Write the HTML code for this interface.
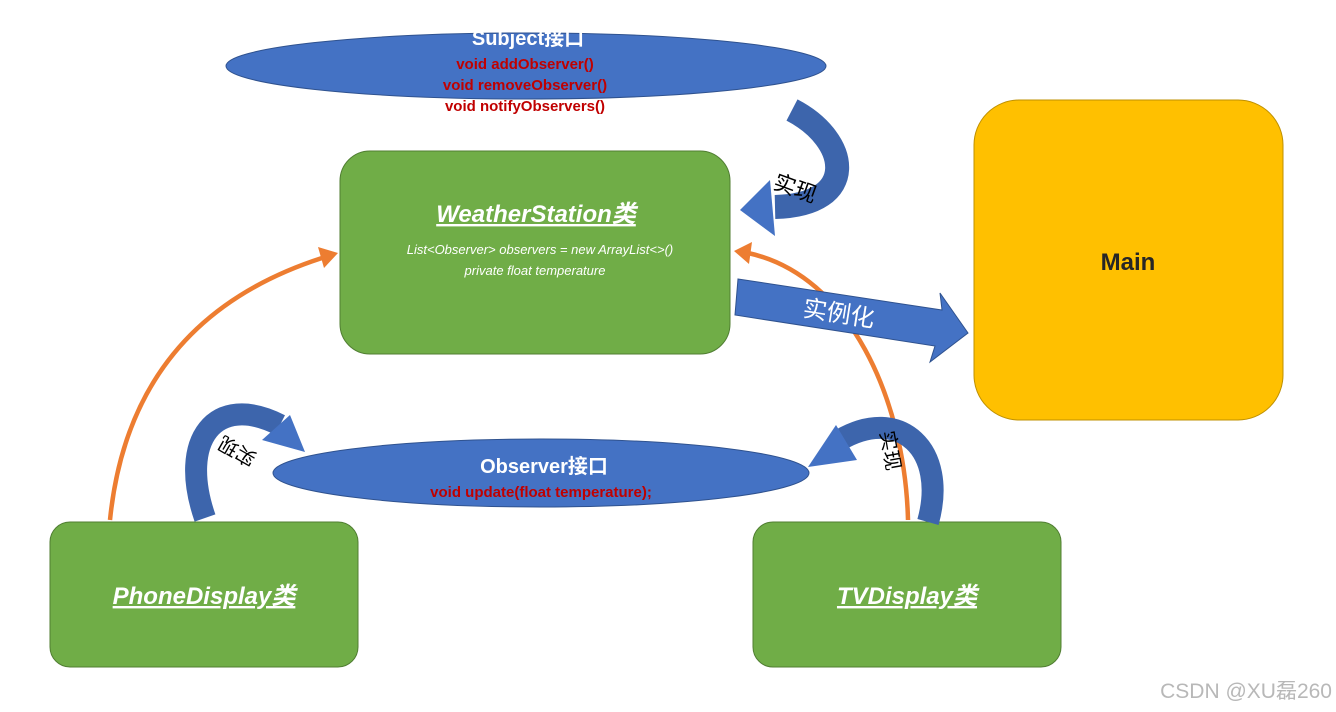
<!DOCTYPE html>
<html><head><meta charset="utf-8"><style>
body{margin:0;background:#fff;}
svg{display:block;font-family:"Liberation Sans","Noto Sans CJK SC",sans-serif;}
</style></head><body>
<svg width="1336" height="712" viewBox="0 0 1336 712" xmlns="http://www.w3.org/2000/svg">
<rect width="1336" height="712" fill="#fff"/>
<!-- Subject ellipse -->
<ellipse cx="526" cy="66" rx="300" ry="33" fill="#4472C4" stroke="#2F528F" stroke-width="1"/>
<text x="528" y="45" fill="#fff" font-size="20" font-weight="bold" text-anchor="middle">Subject接口</text>
<g fill="#C00000" font-size="15" font-weight="bold" text-anchor="middle">
<text x="525" y="69">void addObserver()</text>
<text x="525" y="90">void removeObserver()</text>
<text x="525" y="111">void notifyObservers()</text>
</g>
<!-- WeatherStation -->
<rect x="340" y="151" width="390" height="203" rx="30" fill="#70AD47" stroke="#507E32"/>
<text x="536" y="222" fill="#fff" font-size="24" font-style="italic" font-weight="bold" text-anchor="middle" text-decoration="underline">WeatherStation类</text>
<g fill="#fff" font-size="13" font-style="italic" text-anchor="middle">
<text x="540" y="254">List&lt;Observer&gt; observers = new ArrayList&lt;&gt;()</text>
<text x="535" y="275">private float temperature</text>
</g>
<!-- Main -->
<rect x="974" y="100" width="309" height="320" rx="45" fill="#FFC000" stroke="#BF9000"/>
<text x="1128" y="270" fill="#262626" font-size="24" font-weight="bold" text-anchor="middle">Main</text>
<!-- Orange arrows -->
<path d="M110 520 Q130 320 322 258" fill="none" stroke="#ED7D31" stroke-width="4.5"/>
<polygon points="338,253 318,247 324,268" fill="#ED7D31"/>
<path d="M908 520 C905 400 850 275 748 253" fill="none" stroke="#ED7D31" stroke-width="4.5"/>
<polygon points="734,251 752,242 749,264" fill="#ED7D31"/>
<!-- Observer ellipse -->
<ellipse cx="541" cy="473" rx="268" ry="34" fill="#4472C4" stroke="#2F528F"/>
<text x="544" y="473" fill="#fff" font-size="20" font-weight="bold" text-anchor="middle">Observer接口</text>
<text x="541" y="497" fill="#C00000" font-size="15" font-weight="bold" text-anchor="middle">void update(float temperature);</text>
<!-- Phone / TV -->
<rect x="50" y="522" width="308" height="145" rx="20" fill="#70AD47" stroke="#507E32"/>
<text x="204" y="604" fill="#fff" font-size="24" font-style="italic" font-weight="bold" text-anchor="middle" text-decoration="underline">PhoneDisplay类</text>
<rect x="753" y="522" width="308" height="145" rx="20" fill="#70AD47" stroke="#507E32"/>
<text x="907" y="604" fill="#fff" font-size="24" font-style="italic" font-weight="bold" text-anchor="middle" text-decoration="underline">TVDisplay类</text>
<!-- curved arrow top -->
<path d="M792 110 C850 140 860 205 775 207" fill="none" stroke="#3D65AC" stroke-width="24"/>
<polygon points="740,210 770,180 775,236" fill="#4472C4"/>
<text x="0" y="0" font-size="22" fill="#000" transform="translate(772,188) rotate(20)">实现</text>
<!-- curved arrow left -->
<path d="M205 518 C178 440 215 392 280 425" fill="none" stroke="#3D65AC" stroke-width="22"/>
<polygon points="305,452 290,415 262,440" fill="#4472C4"/>
<text x="0" y="0" font-size="20" fill="#000" transform="translate(258,455) rotate(-150)">实现</text>
<!-- curved arrow right -->
<path d="M928 522 C948 450 900 405 840 440" fill="none" stroke="#3D65AC" stroke-width="22"/>
<polygon points="808,467 836,425 857,460" fill="#4472C4"/>
<text x="0" y="0" font-size="20" fill="#000" transform="translate(880,432) rotate(80)">实现</text>
<!-- 实例化 arrow -->
<polygon points="738,279 942,310 940,293 968,333 930,362 935,346 735,315" fill="#4472C4" stroke="#2F528F"/>
<text x="0" y="0" font-size="24" fill="#fff" transform="translate(802,316) rotate(9)">实例化</text>
<!-- watermark -->
<text x="1332" y="698" fill="#B8B8B8" font-size="21" text-anchor="end">CSDN @XU磊260</text>
</svg>
</body></html>
